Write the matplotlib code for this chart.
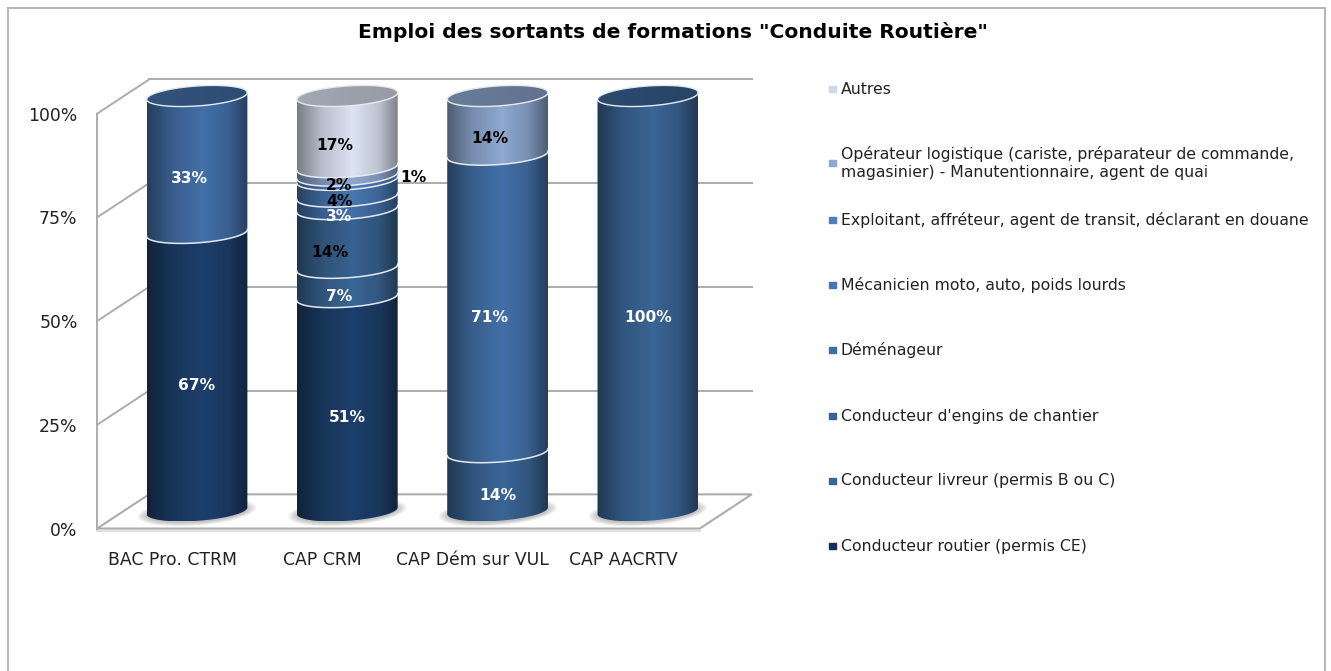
import numpy as np
import matplotlib
matplotlib.use('Agg')
import matplotlib.pyplot as plt
from matplotlib.colors import LinearSegmentedColormap, to_rgb
from matplotlib.lines import Line2D
from matplotlib.patches import Polygon, Rectangle

W, H = 1331, 671

categories = ['BAC Pro. CTRM', 'CAP CRM', 'CAP Dém sur VUL', 'CAP AACRTV']
pct_ticks = [0, 25, 50, 75, 100]

series_names = [
    'Conducteur routier (permis CE)',
    'Conducteur livreur (permis B ou C)',
    "Conducteur d'engins de chantier",
    'Déménageur',
    'Mécanicien moto, auto, poids lourds',
    'Exploitant, affréteur, agent de transit, déclarant en douane',
    'Opérateur logistique (cariste, préparateur de commande,\nmagasinier) - Manutentionnaire, agent de quai',
    'Autres',
]
routier = [67, 51, 0, 0]
livreur = [0, 7, 14, 100]
engins = [0, 14, 0, 0]
demenageur = [33, 3, 71, 0]
mecanicien = [0, 4, 0, 0]
exploitant = [0, 1, 0, 0]
operateur = [0, 2, 14, 0]
autres = [0, 17, 0, 0]
series_values = [routier, livreur, engins, demenageur, mecanicien, exploitant, operateur, autres]

colors = ['#1d3f6b', '#3a6595', '#38628f', '#4370a8', '#4776b0', '#4f7fbb', '#8ea8d0', '#dce3f3']
label_colors = ['white', 'white', 'black', 'white', 'black', 'black', 'black', 'black']
legend_colors = ['#14305a', '#3a6595', '#38628f', '#3f6ea6', '#4776b0', '#4f7fbb', '#8ea8d0', '#ced7e8']
legend_y = [546, 481, 416, 350, 285, 220, 163, 89]

# pixel geometry of the pseudo 3D box
x0_px, step_px = 197.0, 150.3
y0_px, y100_px = 511.5, 96.0
px_x = step_px
px_y = (y0_px - y100_px) / 100.0
depth_x = 26.0 / px_x
depth_y = 16.5 / px_y
half_w, half_h, tilt = 50.5, 10.0, np.radians(4)

xmin, xmax = -0.665, 3.345
ymin, ymax = -4.1, 104.0

fig = plt.figure(figsize=(W / 100, H / 100), dpi=100)
fig.patch.set_facecolor('white')
left = x0_px + xmin * px_x
right = x0_px + xmax * px_x
bottom = y0_px - ymin * px_y
top = y0_px - ymax * px_y
ax = fig.add_axes([left / W, 1 - bottom / H, (right - left) / W, (bottom - top) / H])
ax.set_facecolor('none')
for s in ax.spines.values():
    s.set_visible(False)

GRID = '#acacac'


def ellipse(cx, v, t0=0.0, t1=2 * np.pi, n=80):
    t = np.linspace(t0, t1, n)
    xp = half_w * np.cos(t) * np.cos(tilt) - half_h * np.sin(t) * np.sin(tilt)
    yp = half_w * np.cos(t) * np.sin(tilt) + half_h * np.sin(t) * np.cos(tilt)
    return cx + xp / px_x, v + yp / px_y


def shade(c, k):
    return tuple(np.array(to_rgb(c)) * k)


# walls and floor
xb0, xb1 = xmin + 2 * depth_x, xmax + 2 * depth_x
yf, yb = -depth_y - 0.3, depth_y
floor = Polygon([(xmin, yf), (xmax, yf), (xb1, yb), (xb0, yb)], closed=True,
                facecolor='white', edgecolor=GRID, lw=1.5, zorder=1, clip_on=False)
ax.add_patch(floor)
ax.plot([xmin, xmax], [yf - 0.6, yf - 0.6], color='#e0e0e0', lw=1.5, zorder=0.9, clip_on=False)
for p in pct_ticks[1:]:
    ax.plot([xmin, xb0], [p + yf, p + yb], color=GRID, lw=1.4, zorder=1, clip_on=False)
    ax.plot([xb0, xb1], [p + yb, p + yb], color=GRID, lw=1.4, zorder=1, clip_on=False)
ax.plot([xmin, xmin], [yf, 100 + yf], color=GRID, lw=1.4, zorder=1, clip_on=False)

# cylinders
for i, cat in enumerate(categories):
    total = sum(s[i] for s in series_values)
    for k in range(6):
        ex, ey = ellipse(i, 0)
        grow = 1.0 + 0.035 * k
        ax.fill(i + (ex - i) * grow, -0.3 + ey * (1.0 + 0.07 * k),
                color='#666666', alpha=0.08, lw=0, zorder=1.5, clip_on=False)
    base = 0.0
    for j, vals in enumerate(series_values):
        if vals[i] == 0:
            continue
        h = vals[i] / total * 100
        xl, yl = ellipse(i, base, np.pi, 2 * np.pi)
        xu, yu = ellipse(i, base + h, np.pi, 2 * np.pi)
        verts = np.column_stack([np.r_[xl, xu[::-1]], np.r_[yl, yu[::-1]]])
        clip = Polygon(verts, closed=True, transform=ax.transData)
        cm = LinearSegmentedColormap.from_list(
            'cyl', [(0, shade(colors[j], 0.55)), (0.25, shade(colors[j], 0.84)),
                    (0.55, colors[j]), (0.8, shade(colors[j], 0.86)), (1, shade(colors[j], 0.55))])
        im = ax.imshow(np.linspace(0, 1, 256)[None, :], cmap=cm, aspect='auto',
                       extent=(i - half_w / px_x, i + half_w / px_x, verts[:, 1].min(), verts[:, 1].max()),
                       zorder=2 + 0.01 * j, interpolation='bilinear')
        im.set_clip_path(clip)
        if base + h < 99.9:
            ax.plot(xu, yu, color='#e4e9f0', lw=1.1, zorder=2.5, clip_on=False)

        # data label
        mid = base + h / 2 - 3.3
        dx = 0.0 if base == 0 else -8.0
        if j == 2:
            dx = -17.0
        if j == 7:
            dx = -12.0
        if h < 1.5:
            ax.text(i + 66 / px_x, base + h / 2, f'{vals[i]}%', ha='center', va='center', color='black',
                    fontsize=11.2, fontweight='bold', family='DejaVu Sans', zorder=4)
        else:
            ax.text(i + dx / px_x, mid, f'{vals[i]}%', ha='center', va='center', color=label_colors[j],
                    fontsize=11.2, fontweight='bold', family='DejaVu Sans', zorder=4)
        base += h
        last = j
    # top cap
    xc, yc = ellipse(i, 100)
    cap = Polygon(np.column_stack([xc, yc]), closed=True, transform=ax.transData)
    cm = LinearSegmentedColormap.from_list(
        'cap', [shade(colors[last], 0.74), shade(colors[last], 0.68)])
    im = ax.imshow(np.linspace(0, 1, 64)[None, :], cmap=cm, aspect='auto',
                   extent=(i - half_w / px_x, i + half_w / px_x, yc.min(), yc.max()),
                   zorder=2.6, interpolation='bilinear')
    im.set_clip_path(cap)
    ax.plot(xc, yc, color='#e4e9f0', lw=1.0, zorder=2.7, clip_on=False)

ax.set_xlim(xmin, xmax)
ax.set_ylim(ymin, ymax)

ax.set_xticks(np.arange(len(categories)) - 25 / px_x, categories)
ax.set_yticks(np.array(pct_ticks) + yf, [f'{p}%' for p in pct_ticks])
ax.tick_params(length=0, labelsize=12.4, labelcolor='#222222')
ax.tick_params(axis='x', pad=16)
ax.tick_params(axis='y', pad=14)
for t in ax.get_xticklabels() + ax.get_yticklabels():
    t.set_family('DejaVu Sans')

# legend, placed by hand because the two-line entry breaks even spacing
for name, c, y in zip(series_names, legend_colors, legend_y):
    fig.add_artist(Rectangle((829 / W, 1 - (y + 3) / H), 7 / W, 6 / H, color=c,
                             transform=fig.transFigure))
    fig.text(841 / W, 1 - y / H, name, ha='left', va='center', fontsize=11.35,
             family='DejaVu Sans', color='#222222', linespacing=1.25)

fig.text(673 / W, 1 - 31.5 / H, 'Emploi des sortants de formations "Conduite Routière"',
         ha='center', va='center', fontsize=14.6, fontweight='bold', family='DejaVu Sans', color='black')

# chart frame, the picture cuts it off at the bottom
for xs, ys in [((7.5, 1325), (7.5, 7.5)), ((7.5, 7.5), (7.5, H)), ((1325, 1325), (7.5, H))]:
    fig.add_artist(Line2D(np.array(xs) / W, 1 - np.array(ys) / H, color='#b4b4b4', lw=1.4))

fig.savefig('out.png', dpi=100)
